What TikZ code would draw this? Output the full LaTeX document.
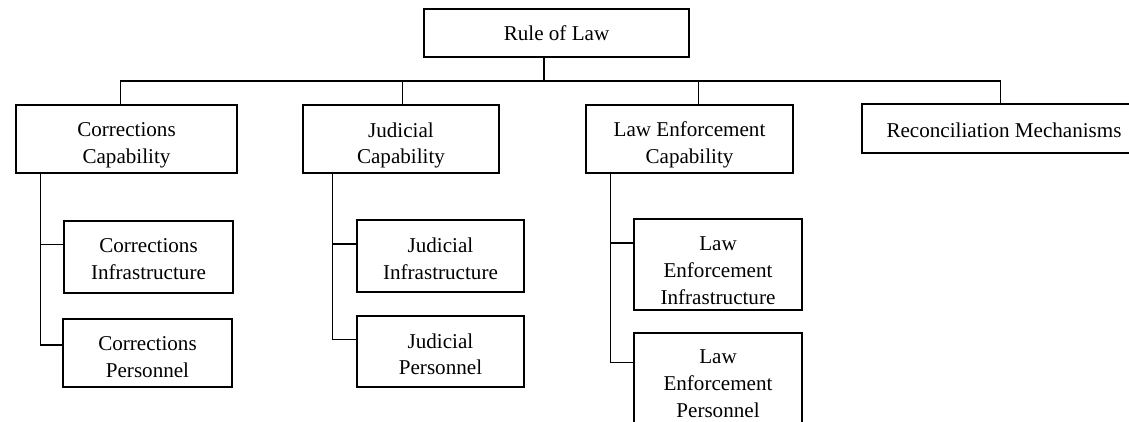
\documentclass[tikz,border=0pt]{standalone}
\usepackage{fontspec}
\setmainfont{Liberation Serif}
\begin{document}
\begin{tikzpicture}[x=1pt,y=-1pt,
  box/.style={draw, line width=1.4pt, inner sep=0pt},
  txt/.style={inner sep=0pt, align=center, font=\fontsize{21.1}{26.7}\selectfont},
  link/.style={line width=1.4pt}]
\useasboundingbox (0,0) rectangle (1129,422);
\clip (0,0) rectangle (1129,422);

% top level
\node[box, minimum width=265pt, minimum height=48pt] (root) at (556.5,33) {};
\node[txt] (root-t) at (root) {Rule of Law};

% second level
\node[box, minimum width=221pt, minimum height=68pt] (cc) at (126.5,139) {};
\node[txt] (cc-t) at ([yshift=-6pt]cc.center) {Corrections\\Capability};
\node[box, minimum width=196pt, minimum height=68pt] (jc) at (401,139) {};
\node[txt] (jc-t) at ([yshift=-6.5pt]jc.center) {Judicial\\Capability};
\node[box, minimum width=207pt, minimum height=68pt] (lc) at (689.5,139) {};
\node[txt] (lc-t) at ([yshift=-6pt]lc.center) {Law Enforcement\\Capability};
\node[box, minimum width=284pt, minimum height=49pt] (rm) at (1004,128.5) {};
\node[txt] (rm-t) at ([yshift=-1.3pt]rm.center) {Reconciliation Mechanisms};

% third level
\node[box, minimum width=169pt, minimum height=72pt] (ci) at (148.5,257) {};
\node[txt] (ci-t) at ([yshift=-1.8pt]ci.center) {Corrections\\Infrastructure};
\node[box, minimum width=169pt, minimum height=68pt] (cp) at (147.5,353) {};
\node[txt] (cp-t) at ([yshift=-3.8pt]cp.center) {Corrections\\Personnel};
\node[box, minimum width=167pt, minimum height=72pt] (ji) at (440.5,256) {};
\node[txt] (ji-t) at ([yshift=-2.8pt]ji.center) {Judicial\\Infrastructure};
\node[box, minimum width=167pt, minimum height=71pt] (jp) at (440.5,351.5) {};
\node[txt] (jp-t) at ([yshift=-2.7pt]jp.center) {Judicial\\Personnel};
\node[box, minimum width=168pt, minimum height=91pt] (li) at (718,264.5) {};
\node[txt] (li-t) at ([yshift=-6pt]li.center) {Law\\Enforcement\\Infrastructure};
\node[box, minimum width=168pt, minimum height=91pt] (lp) at (718,378.5) {};
\node[txt] (lp-t) at ([yshift=-5.3pt]lp.center) {Law\\Enforcement\\Personnel};

% bus under the root
\coordinate (bus) at (0,81);
\draw[link] ([xshift=-12.5pt]root.south) -- ([xshift=-12.5pt]root.south |- bus);
\draw[link] ([xshift=-5.8pt]cc.north) -- ([xshift=-5.8pt]cc.north |- bus)
  -- ([xshift=-3.3pt]rm.north |- bus) -- ([xshift=-3.3pt]rm.north);
\draw[link] ([xshift=1.3pt]jc.north) -- ([xshift=1.3pt]jc.north |- bus);
\draw[link] ([xshift=9pt]lc.north) -- ([xshift=9pt]lc.north |- bus);

% trunks to the third level
\draw[link] ([xshift=-85.8pt]cc.south) |- ([yshift=12.7pt]ci.west);
\draw[link] ([xshift=-85.8pt]cc.south) |- ([yshift=8pt]cp.west);
\draw[link] ([xshift=-68.7pt]jc.south) |- ([yshift=12pt]ji.west);
\draw[link] ([xshift=-68.7pt]jc.south) |- ([yshift=12.2pt]jp.west);
\draw[link] ([xshift=-78.8pt]lc.south) |- ([yshift=21.4pt]li.west);
\draw[link] ([xshift=-78.8pt]lc.south) |- ([yshift=15.8pt]lp.west);
\end{tikzpicture}
\end{document}
